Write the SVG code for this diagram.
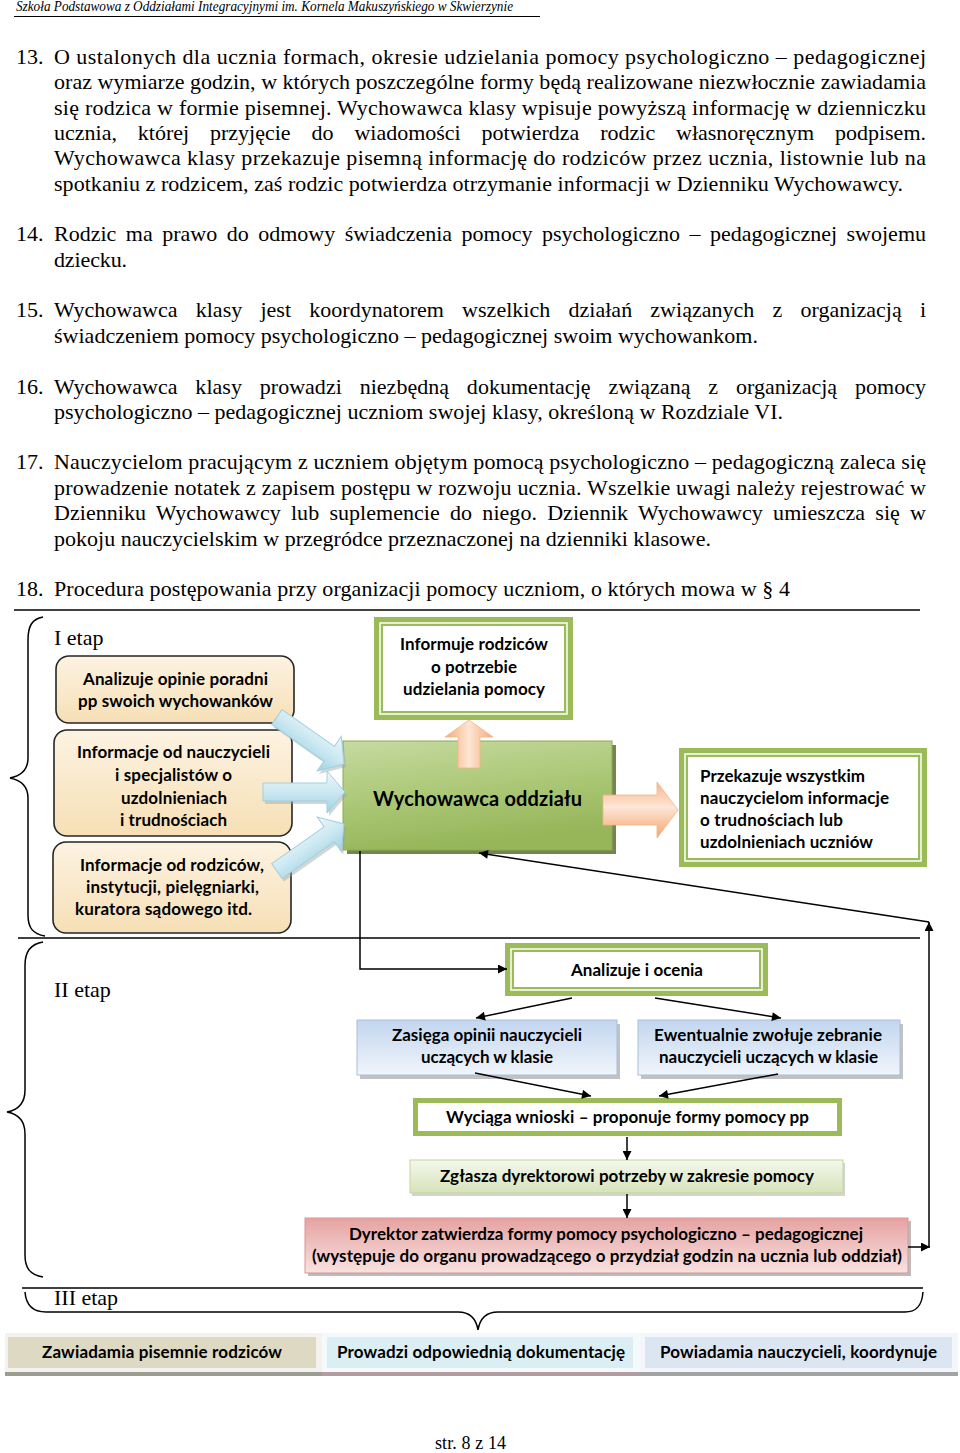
<svg xmlns="http://www.w3.org/2000/svg" width="960" height="1453" viewBox="0 0 960 1453">
<style>
.body{font-family:"Liberation Serif","Times New Roman",serif;font-size:22px;fill:#000}
.hdr{font-family:"Liberation Serif",serif;font-style:italic;font-size:14px;fill:#000}
.bx{font-family:Lato,"Open Sans",sans-serif;font-weight:bold;font-size:17px;fill:#000}
.big{font-family:Lato,"Open Sans",sans-serif;font-weight:bold;font-size:20px;fill:#000}
.conn{stroke:#000;stroke-width:1.5;fill:none}
.brace{stroke:#000;stroke-width:1.5;fill:none}
.rule{stroke:#000;stroke-width:1.5}
.beige{fill:url(#gBeige);stroke:#262626;stroke-width:1.6}
.gband{fill:#fff;stroke:#9bbb59;stroke-width:9}
.gline{fill:none;stroke:#fff;stroke-width:1.5}
.blueA{fill:url(#gBlue);stroke:#9fcfdf;stroke-width:1}
.shadowA{fill:#9aa3a6;opacity:0.45}
</style>
<defs>
<linearGradient id="gBeige" x1="0" y1="0" x2="0" y2="1"><stop offset="0" stop-color="#fdf3e2"/><stop offset="1" stop-color="#f6dfb5"/></linearGradient>
<linearGradient id="gBlue" x1="0" y1="0" x2="0" y2="1"><stop offset="0" stop-color="#eef8fb"/><stop offset="0.5" stop-color="#cbe8f1"/><stop offset="1" stop-color="#9fd1e2"/></linearGradient>
<linearGradient id="gGreen" x1="0" y1="0" x2="0.3" y2="1"><stop offset="0" stop-color="#c6daa0"/><stop offset="0.5" stop-color="#adc979"/><stop offset="1" stop-color="#96b659"/></linearGradient>
<linearGradient id="gOrangeV" x1="0" y1="0" x2="1" y2="0"><stop offset="0" stop-color="#f6a974"/><stop offset="0.5" stop-color="#fde6d4"/><stop offset="1" stop-color="#f6a974"/></linearGradient>
<linearGradient id="gOrangeH" x1="0" y1="0" x2="0" y2="1"><stop offset="0" stop-color="#f7b489"/><stop offset="0.45" stop-color="#fde7d6"/><stop offset="1" stop-color="#f5a36b"/></linearGradient>
<linearGradient id="gLBlue" x1="0" y1="0" x2="0" y2="1"><stop offset="0" stop-color="#c2d6ef"/><stop offset="1" stop-color="#f1f5fb"/></linearGradient>
<linearGradient id="gLGreen" x1="0" y1="0" x2="0" y2="1"><stop offset="0" stop-color="#f4f8ec"/><stop offset="1" stop-color="#d6e3ba"/></linearGradient>
<linearGradient id="gPink" x1="0" y1="0" x2="0" y2="1"><stop offset="0" stop-color="#e5a2a1"/><stop offset="1" stop-color="#f8e2e1"/></linearGradient>
<marker id="ah" viewBox="0 0 10 10" refX="10" refY="5" markerWidth="11" markerHeight="9" markerUnits="userSpaceOnUse" orient="auto"><path d="M0,0 L10,5 L0,10 z" fill="#000"/></marker>
<polygon id="blockArrow" points="-82,-9 -18,-9 -18,-21 0,0 -18,21 -18,9 -82,9"/>
</defs>

<g id="header">
<text class="hdr" x="16" y="11" textLength="497" lengthAdjust="spacingAndGlyphs">Szkoła Podstawowa z Oddziałami Integracyjnymi im. Kornela Makuszyńskiego w Skwierzynie</text>
<line x1="14" y1="16.5" x2="540" y2="16.5" stroke="#000" stroke-width="1.2"/>
</g>

<g id="body-text">
<text class="body" x="16" y="64">13.</text>
<text class="body" x="54" y="64" textLength="872">O ustalonych dla ucznia formach, okresie udzielania pomocy psychologiczno – pedagogicznej</text>
<text class="body" x="54" y="89" textLength="872">oraz wymiarze godzin, w których poszczególne formy będą realizowane niezwłocznie zawiadamia</text>
<text class="body" x="54" y="115" textLength="872">się rodzica w formie pisemnej. Wychowawca klasy wpisuje powyższą informację w dzienniczku</text>
<text class="body" x="54" y="140" textLength="872" style="word-spacing:15.4px">ucznia, której przyjęcie do wiadomości potwierdza rodzic własnoręcznym podpisem.</text>
<text class="body" x="54" y="165" textLength="872">Wychowawca klasy przekazuje pisemną informację do rodziców przez ucznia, listownie lub na</text>
<text class="body" x="54" y="191" textLength="849">spotkaniu z rodzicem, zaś rodzic potwierdza otrzymanie informacji w Dzienniku Wychowawcy.</text>
<text class="body" x="16" y="241">14.</text>
<text class="body" x="54" y="241" textLength="872" style="word-spacing:4px">Rodzic ma prawo do odmowy świadczenia pomocy  psychologiczno – pedagogicznej swojemu</text>
<text class="body" x="54" y="267" textLength="73">dziecku.</text>
<text class="body" x="16" y="317">15.</text>
<text class="body" x="54" y="317" textLength="872" style="word-spacing:12.6px">Wychowawca klasy jest koordynatorem wszelkich działań związanych z organizacją i</text>
<text class="body" x="54" y="343" textLength="704">świadczeniem pomocy psychologiczno – pedagogicznej swoim wychowankom.</text>
<text class="body" x="16" y="394">16.</text>
<text class="body" x="54" y="394" textLength="872" style="word-spacing:12.3px">Wychowawca klasy prowadzi niezbędną dokumentację związaną z organizacją pomocy</text>
<text class="body" x="54" y="419" textLength="729">psychologiczno – pedagogicznej uczniom swojej klasy, określoną w Rozdziale VI.</text>
<text class="body" x="16" y="469">17.</text>
<text class="body" x="54" y="469" textLength="872">Nauczycielom pracującym z uczniem objętym pomocą psychologiczno – pedagogiczną zaleca się</text>
<text class="body" x="54" y="495" textLength="872">prowadzenie notatek z zapisem postępu w rozwoju ucznia. Wszelkie uwagi należy rejestrować w</text>
<text class="body" x="54" y="520" textLength="872" style="word-spacing:4.7px">Dzienniku Wychowawcy  lub suplemencie do niego. Dziennik Wychowawcy umieszcza się w</text>
<text class="body" x="54" y="546" textLength="657">pokoju nauczycielskim w przegródce przeznaczonej na dzienniki klasowe.</text>
<text class="body" x="16" y="596">18.</text>
<text class="body" x="54" y="596" textLength="736">Procedura postępowania przy organizacji pomocy uczniom, o których mowa w  § 4</text>
</g>

<g id="stage-frame">
<line class="rule" x1="14" y1="610" x2="920" y2="610"/>
<line class="rule" x1="18" y1="938" x2="920" y2="938"/>
<line class="rule" x1="22" y1="1288" x2="923" y2="1288"/>
<path class="brace" d="M43,617 C32,619 28,626 28,640 L28,758 C28,770 20,776 10,778 C20,780 28,786 28,798 L28,915 C28,928 33,934 45,936"/>
<path class="brace" d="M43,942 C30,944 25,952 25,965 L25,1090 C25,1104 18,1110 7,1112 C18,1114 25,1120 25,1134 L25,1255 C25,1268 30,1275 43,1277"/>
<path class="brace" d="M25,1292 C26,1305 32,1312 46,1312 L458,1312 C470,1312 476,1318 478,1330 C480,1318 486,1312 498,1312 L905,1312 C917,1312 922,1305 923,1292"/>
<text class="body" x="54" y="645">I etap</text>
<text class="body" x="54" y="997">II etap</text>
<text class="body" x="54" y="1305">III etap</text>
</g>

<g id="node-analizuje-opinie">
<rect class="beige" x="56" y="656" width="238" height="67" rx="13"/>
<text class="bx" x="83" y="685" textLength="185">Analizuje opinie poradni</text>
<text class="bx" x="78" y="707" textLength="195">pp swoich wychowanków</text>
</g>

<g id="node-info-nauczycieli">
<rect class="beige" x="54" y="730" width="238" height="106" rx="13"/>
<text class="bx" x="77" y="758" textLength="193">Informacje od nauczycieli</text>
<text class="bx" x="115" y="781" textLength="117">i specjalistów o</text>
<text class="bx" x="121" y="804" textLength="106">uzdolnieniach</text>
<text class="bx" x="120" y="826" textLength="107">i trudnościach</text>
</g>

<g id="node-info-rodzicow">
<rect class="beige" x="53" y="842" width="238" height="91" rx="13"/>
<text class="bx" x="80" y="871" textLength="184">Informacje od rodziców,</text>
<text class="bx" x="86" y="893" textLength="173">instytucji, pielęgniarki,</text>
<text class="bx" x="75" y="915" textLength="177">kuratora sądowego itd.</text>
</g>

<g id="node-informuje-rodzicow">
<rect class="gband" x="378.5" y="621.5" width="190" height="94"/>
<rect class="gline" x="380" y="623" width="187" height="91"/>
<text class="bx" x="400" y="650" textLength="148">Informuje rodziców</text>
<text class="bx" x="431" y="673" textLength="86">o potrzebie</text>
<text class="bx" x="403" y="695" textLength="142">udzielania pomocy</text>
</g>

<g id="node-wychowawca">
<rect x="347" y="745" width="269" height="109" fill="#5d7034" opacity="0.85"/>
<rect x="343" y="741" width="269" height="109" fill="url(#gGreen)" stroke="#8eab52" stroke-width="1"/>
<text class="big" x="373" y="806" textLength="209">Wychowawca oddziału</text>
</g>

<g id="node-przekazuje">
<rect class="gband" x="683.5" y="752.5" width="239" height="110"/>
<rect class="gline" x="685" y="754" width="236" height="107"/>
<text class="bx" x="700" y="782" textLength="165">Przekazuje wszystkim</text>
<text class="bx" x="700" y="804" textLength="189">nauczycielom informacje</text>
<text class="bx" x="700" y="826" textLength="143">o trudnościach lub</text>
<text class="bx" x="700" y="848" textLength="173">uzdolnieniach uczniów</text>
</g>

<g id="node-analizuje-ocenia">
<rect class="gband" x="509.5" y="947.5" width="254" height="44"/>
<rect class="gline" x="511" y="949" width="251" height="41"/>
<text class="bx" x="571" y="976" textLength="132">Analizuje i ocenia</text>
</g>

<g id="node-zasiega">
<rect x="360" y="1024" width="260" height="55" fill="#9a9a9a" opacity="0.6"/>
<rect x="357" y="1020" width="260" height="55" fill="url(#gLBlue)" stroke="#a7bfdc" stroke-width="1"/>
<text class="bx" x="392" y="1041" textLength="190">Zasięga opinii nauczycieli</text>
<text class="bx" x="421" y="1063" textLength="132">uczących w klasie</text>
</g>

<g id="node-ewentualnie">
<rect x="641" y="1024" width="262" height="55" fill="#9a9a9a" opacity="0.6"/>
<rect x="638" y="1020" width="262" height="55" fill="url(#gLBlue)" stroke="#a7bfdc" stroke-width="1"/>
<text class="bx" x="654" y="1041" textLength="228">Ewentualnie zwołuje zebranie</text>
<text class="bx" x="659" y="1063" textLength="219">nauczycieli uczących w klasie</text>
</g>

<g id="node-wyciaga">
<rect x="415.5" y="1100.5" width="424" height="33" fill="#fff" stroke="#9bbb59" stroke-width="5"/>
<text class="bx" x="446" y="1123" textLength="363">Wyciąga wnioski – proponuje formy pomocy pp</text>
</g>

<g id="node-zglasza">
<rect x="412" y="1163" width="433" height="33" fill="#a9a9a9" opacity="0.5"/>
<rect x="410" y="1160" width="433" height="33" fill="url(#gLGreen)" stroke="#c3d69b" stroke-width="1"/>
<text class="bx" x="440" y="1182" textLength="374">Zgłasza dyrektorowi potrzeby w zakresie pomocy</text>
</g>

<g id="node-dyrektor">
<rect x="308" y="1221" width="603" height="55" fill="#8f8f8f" opacity="0.6"/>
<rect x="305" y="1218" width="603" height="55" fill="url(#gPink)" stroke="#d99694" stroke-width="1"/>
<text class="bx" x="349" y="1240" textLength="514">Dyrektor zatwierdza formy pomocy psychologiczno – pedagogicznej</text>
<text class="bx" x="312" y="1262" textLength="590">(występuje do organu prowadzącego o przydział godzin na ucznia lub oddział)</text>
</g>

<g id="node-zawiadamia">
<rect x="5" y="1333" width="317" height="43" fill="#f3f2ee"/>
<rect x="5" y="1372" width="317" height="4" fill="#9d9d8f"/>
<rect x="8" y="1337" width="308" height="31" fill="#ddd9c3"/>
<text class="bx" x="42" y="1358" textLength="240">Zawiadamia pisemnie rodziców</text>
</g>

<g id="node-prowadzi">
<rect x="322" y="1333" width="318" height="43" fill="#f4f9fb"/>
<rect x="322" y="1372" width="318" height="4" fill="#b39c9f"/>
<rect x="327" y="1337" width="306" height="31" fill="#daeef3"/>
<text class="bx" x="337" y="1358" textLength="288">Prowadzi odpowiednią dokumentację</text>
</g>

<g id="node-powiadamia">
<rect x="640" y="1333" width="318" height="43" fill="#f3f6fa"/>
<rect x="640" y="1372" width="318" height="4" fill="#a3a3a3"/>
<rect x="645" y="1337" width="307" height="31" fill="#dce6f2"/>
<text class="bx" x="660" y="1358" textLength="277">Powiadamia nauczycieli, koordynuje</text>
</g>

<g id="block-arrows">
<g transform="translate(346,767) rotate(35)"><use href="#blockArrow" class="shadowA"/></g>
<g transform="translate(344,764) rotate(35)"><use href="#blockArrow" class="blueA"/></g>
<g transform="translate(347,795)"><use href="#blockArrow" class="shadowA"/></g>
<g transform="translate(345,792)"><use href="#blockArrow" class="blueA"/></g>
<g transform="translate(346,827) rotate(-35)"><use href="#blockArrow" class="shadowA"/></g>
<g transform="translate(344,824) rotate(-35)"><use href="#blockArrow" class="blueA"/></g>
<polygon points="458,768 458,737 445,737 469,720 493,737 480,737 480,768" fill="url(#gOrangeV)" stroke="#f3b58a" stroke-width="0.8"/>
<polygon points="603,795 657,795 657,782 678,810 657,838 657,825 603,825" fill="url(#gOrangeH)" stroke="#f3b58a" stroke-width="0.8"/>
</g>

<g id="connectors">
<path class="conn" d="M360,851 L360,969 L507,969" marker-end="url(#ah)"/>
<path class="conn" d="M572,998 L476,1018" marker-end="url(#ah)"/>
<path class="conn" d="M655,998 L781,1018" marker-end="url(#ah)"/>
<path class="conn" d="M475,1073 L591,1096" marker-end="url(#ah)"/>
<path class="conn" d="M778,1074 L659,1096" marker-end="url(#ah)"/>
<path class="conn" d="M627,1137 L627,1160" marker-end="url(#ah)"/>
<path class="conn" d="M627,1194 L627,1218" marker-end="url(#ah)"/>
<path class="conn" d="M908,1247 L930,1247" marker-end="url(#ah)"/>
<path class="conn" d="M929,1247 L929,922" marker-end="url(#ah)"/>
<path class="conn" d="M929,922 L479,853" marker-end="url(#ah)"/>
</g>

<g id="footer">
<text x="435" y="1449" style="font-family:'Liberation Serif',serif;font-size:18px" textLength="71">str. 8 z 14</text>
</g>
</svg>
